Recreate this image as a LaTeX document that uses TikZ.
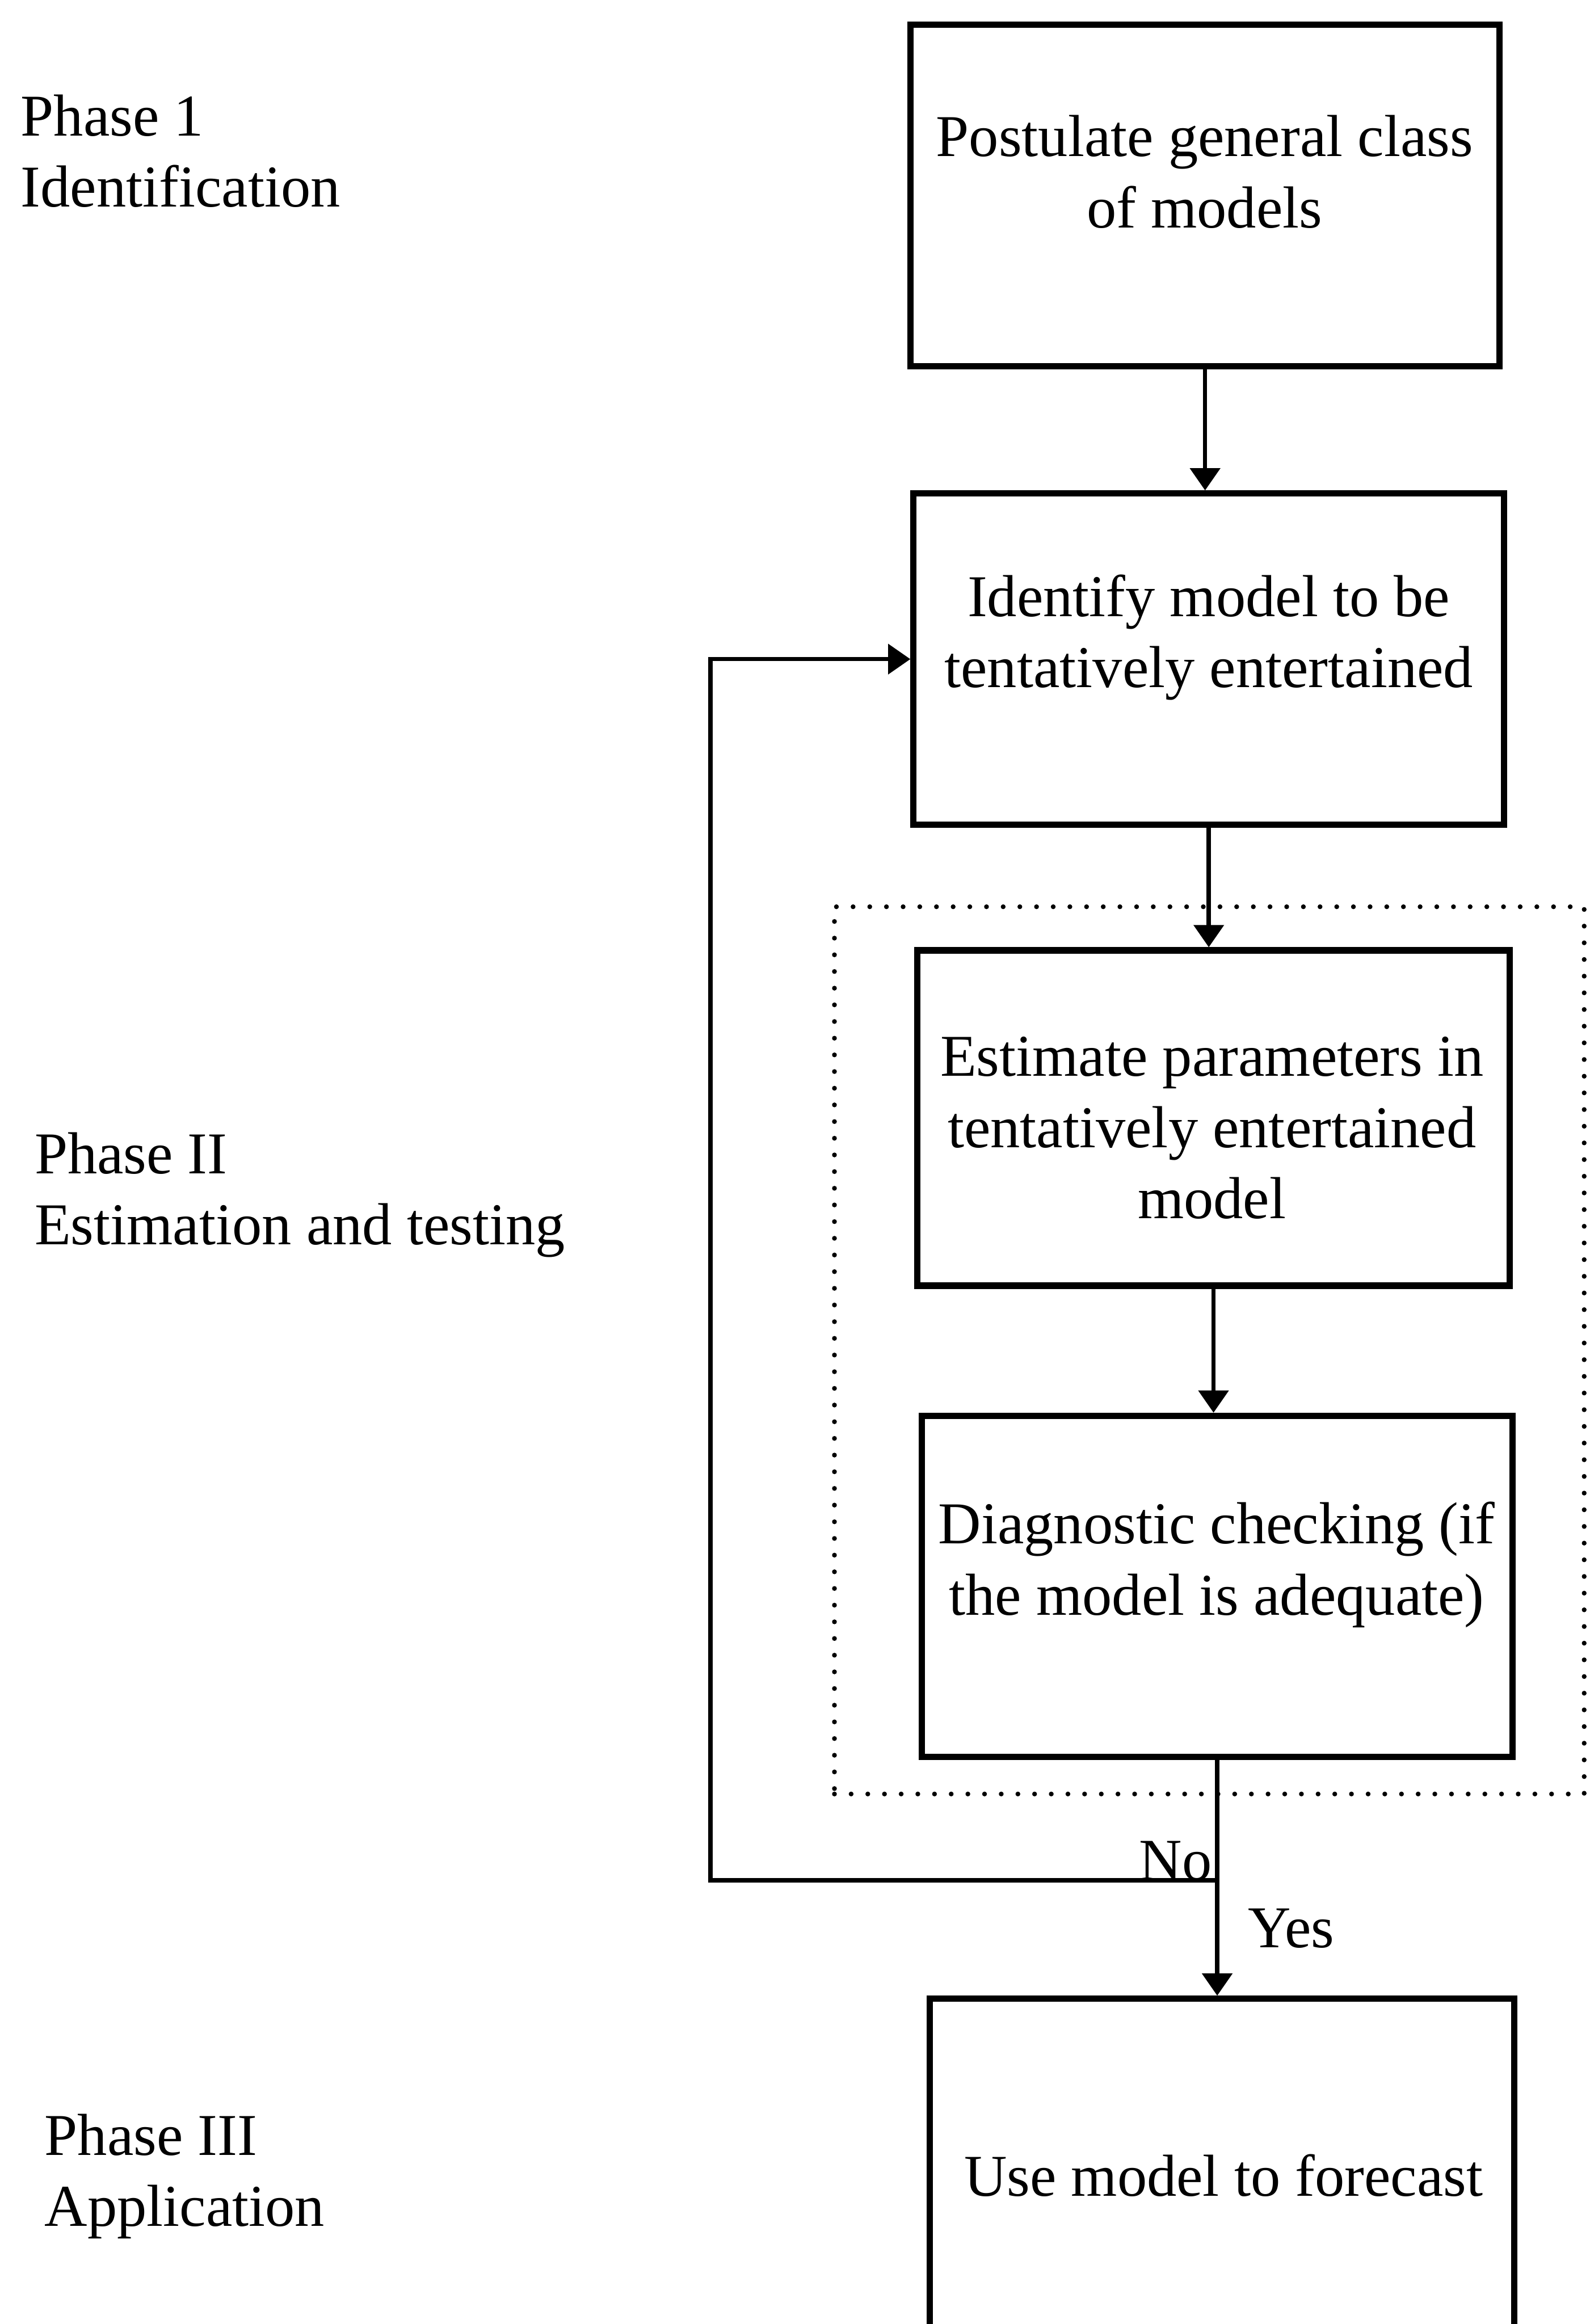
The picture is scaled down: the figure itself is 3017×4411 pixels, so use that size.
\documentclass[tikz,border=0pt]{standalone}
\usepackage{fontspec}
\setmainfont{Liberation Serif}
\usetikzlibrary{arrows.meta}
\begin{document}
\begin{tikzpicture}[x=0.01cm,y=-0.01cm,
  txt/.style={align=center,inner sep=0pt,font=\fontsize{32}{38.4}\selectfont},
  phase/.style={anchor=west,align=left,inner sep=0pt,font=\fontsize{32}{38.4}\selectfont},
  stepbox/.style={draw,line width=3.4pt,inner sep=0pt},
  dotbox/.style={draw,line width=2.6pt,line cap=round,dash pattern=on 0pt off 9pt,inner sep=0pt},
  conn/.style={line width=2.3pt},
  arr/.style={conn,-{Triangle[length=12pt,width=16pt]}}]
  \useasboundingbox (0,0) rectangle (3017,4411);
  \clip (0,0) rectangle (3017,4411);

  % process boxes
  \node (b1) [stepbox,minimum width=11.17cm,minimum height=6.47cm] at (2287,371) {};
  \node (b2) [stepbox,minimum width=11.20cm,minimum height=6.28cm] at (2294,1251) {};
  \node (b3) [stepbox,minimum width=11.23cm,minimum height=6.36cm] at (2303,2122) {};
  \node (b4) [stepbox,minimum width=11.21cm,minimum height=6.47cm] at (2310,3011) {};
  \node (b5) [stepbox,minimum width=11.08cm,minimum height=8.00cm] at (2319,4194) {};

  % estimation and testing group
  \node (grp) [dotbox,minimum width=14.22cm,minimum height=16.83cm] at (2295,2563) {};

  % box texts
  \node (t1) [txt] at (2286,326) {Postulate general class\\of models};
  \node (t2) [txt] at (2294,1210) {Identify model to be\\tentatively entertained};
  \node (t3) [txt] at (2300,2141) {Estimate parameters in\\tentatively entertained\\model};
  \node (t4) [txt] at (2309,2970) {Diagnostic checking (if\\the model is adequate)};
  \node (t5) [txt] at (2322,4129) {Use model to forecast};

  % phase labels
  \node (p1) [phase] at (39,287) {Phase 1\\Identification};
  \node (p2) [phase] at (65,2268) {Phase II\\Estimation and testing};
  \node (p3) [phase] at (84,4131) {Phase III\\Application};

  % connectors
  \draw[arr] (b1.south) -- (b1.south |- b2.north);
  \draw[arr] (b2.south) -- (b2.south |- b3.north);
  \draw[arr] (b3.south) -- (b3.south |- b4.north);
  \coordinate (j) at (b4.south |- 0,3569);
  \coordinate (fb) at (1348,3569);
  \draw[arr] (b4.south) -- (b4.south |- b5.north);
  \draw[arr] (j) -- (fb) |- (b2.west);

  % branch labels
  \node (no) [txt] at (2231,3532) {No};
  \node (yes) [txt] at (2450,3660) {Yes};
\end{tikzpicture}
\end{document}
